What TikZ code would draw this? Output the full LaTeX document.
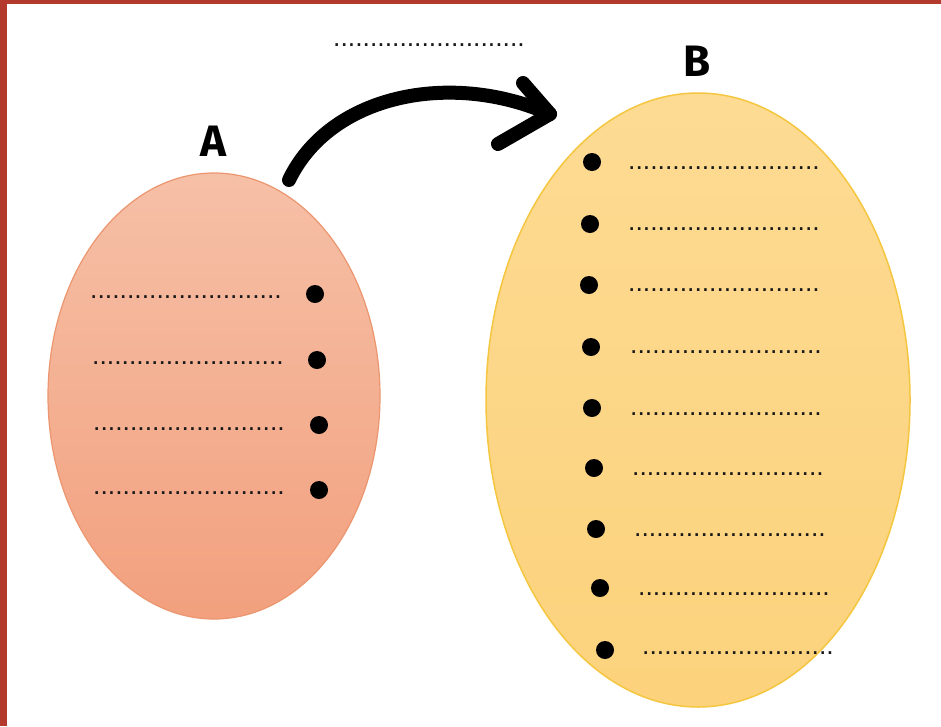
\documentclass[tikz,border=0pt]{standalone}
\usepackage{fontspec}
\newfontfamily\lblfont{Fira Sans}
\newfontfamily\dotfont{Liberation Sans}
\usetikzlibrary{shapes.geometric}
\definecolor{frame}{HTML}{B3392D}
\definecolor{atop}{HTML}{F6C0A7}
\definecolor{abot}{HTML}{F2A07E}
\definecolor{aline}{HTML}{EC9670}
\definecolor{btop}{HTML}{FDDB93}
\definecolor{bbot}{HTML}{FCD27C}
\definecolor{bline}{HTML}{F5C63F}
\newcommand\dotrowtext{..........................}
\tikzset{
  setA/.style={ellipse, inner sep=0, minimum width=332pt, minimum height=446pt,
    top color=atop, bottom color=abot, draw=aline, line width=1.2pt},
  setB/.style={ellipse, inner sep=0, minimum width=424pt, minimum height=614pt,
    top color=btop, bottom color=bbot, draw=bline, line width=1.5pt},
  dotrow/.style={font=\dotfont\fontsize{26.5}{26.5}\selectfont, anchor=base west, inner sep=0pt, text=black!90},
  bulletdot/.style={circle, fill=black, minimum size=18pt, inner sep=0pt},
  lbl/.style={font=\lblfont\bfseries\fontsize{44}{44}\selectfont, inner sep=0pt},
  bigarrow/.style={line width=14pt, line cap=round, line join=round, black}
}
\begin{document}
\begin{tikzpicture}[x=1pt,y=-1pt]
\useasboundingbox (0,0) rectangle (941,726);
\fill[white] (0,0) rectangle (941,726);
\fill[frame] (0,0) rectangle (941,4);
\fill[frame] (0,0) rectangle (7,726);

% sets
\node[setA] (A) at (214,396) {};
\node[setB] (B) at (698,400) {};

% labels
\node[lbl] (labA) at (213,141) {A};
\node[lbl] (labB) at (697,61) {B};

% title dots
\node[dotrow] (title) at (333,46) {\dotrowtext};

% set A rows
\node[dotrow] (ta1) at (90,298) {\dotrowtext};
\node[dotrow] (ta2) at (92,364) {\dotrowtext};
\node[dotrow] (ta3) at (93,430) {\dotrowtext};
\node[dotrow] (ta4) at (93,494) {\dotrowtext};
\node[bulletdot] (ba1) at (315,294) {};
\node[bulletdot] (ba2) at (317,360) {};
\node[bulletdot] (ba3) at (319,425) {};
\node[bulletdot] (ba4) at (319,490) {};

% set B rows
\node[bulletdot] (bb1) at (592,162) {};
\node[bulletdot] (bb2) at (590,224) {};
\node[bulletdot] (bb3) at (589,285) {};
\node[bulletdot] (bb4) at (591,347) {};
\node[bulletdot] (bb5) at (592,408) {};
\node[bulletdot] (bb6) at (594,468) {};
\node[bulletdot] (bb7) at (596,529) {};
\node[bulletdot] (bb8) at (600,588) {};
\node[bulletdot] (bb9) at (605,650) {};
\node[dotrow] (tb1) at (628,169) {\dotrowtext};
\node[dotrow] (tb2) at (628,230) {\dotrowtext};
\node[dotrow] (tb3) at (628,291) {\dotrowtext};
\node[dotrow] (tb4) at (630,353) {\dotrowtext};
\node[dotrow] (tb5) at (630,415) {\dotrowtext};
\node[dotrow] (tb6) at (632,475) {\dotrowtext};
\node[dotrow] (tb7) at (634,536) {\dotrowtext};
\node[dotrow] (tb8) at (638,595) {\dotrowtext};
\node[dotrow] (tb9) at (642,654) {\dotrowtext};

% arrow
\coordinate (s) at (289,180);
\coordinate (e) at (550,114);
\coordinate (hu) at (523,83);
\coordinate (hl) at (498,144);
\draw[bigarrow] (s) .. controls (330,95) and (450,70) .. (e);
\draw[bigarrow] (hu) -- (e) -- (hl);
\end{tikzpicture}
\end{document}
